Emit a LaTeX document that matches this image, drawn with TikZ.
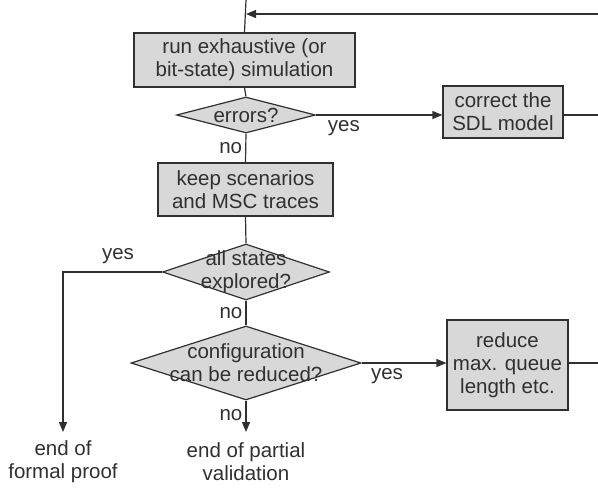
\documentclass[tikz,border=0pt]{standalone}
\usepackage{fontspec}
\setmainfont{Liberation Sans}
\usetikzlibrary{shapes.geometric,arrows.meta}
\definecolor{boxfill}{HTML}{D8D8D8}
\definecolor{ink}{HTML}{303030}
\begin{document}
\begin{tikzpicture}[x=1pt,y=1pt,
  every node/.style={font=\fontsize{20.5}{23}\selectfont,text=ink},
  procbox/.style={draw=ink,fill=boxfill,line width=1.2pt,align=center,inner sep=0pt},
  decision/.style={diamond,draw=ink,fill=boxfill,line width=1.2pt,inner sep=0pt},
  flow/.style={draw=ink,line width=1.2pt},
  arr/.style={flow,-{Triangle[length=10pt,width=8pt]}},
  lbl/.style={inner sep=0pt,align=center}]
\useasboundingbox (0,0) rectangle (598,-488);

% process boxes
\node[procbox,minimum width=221,minimum height=54] (run) at (244.5,-60)
  {run exhaustive (or\\bit-state) simulation};
\node[procbox,minimum width=120,minimum height=52] (correct) at (503,-112)
  {correct the\\SDL model};
\node[procbox,minimum width=175,minimum height=53] (keep) at (245.5,-189.5)
  {keep scenarios\\and MSC traces};
\node[procbox,minimum width=121,minimum height=90] (reduce) at (507.5,-365)
  {reduce\\max. queue\\length etc.};

% decisions
\node[decision,minimum width=139,minimum height=36,
  label={[lbl]center:errors?}] (err) at (246,-115) {};
\node[decision,minimum width=167,minimum height=56,
  label={[lbl]center:all states\\explored?}] (all) at (246,-272) {};
\node[decision,minimum width=230,minimum height=74,
  label={[lbl]center:configuration\\can be reduced?}] (conf) at (246,-363) {};

% end points
\node[lbl] (proof) at (63,-462) {end of\\formal proof};
\node[lbl] (partial) at (246,-462) {end of partial\\validation};

% loop-back entry
\coordinate (topin) at (246,0);
\coordinate (ret) at (598,-14);
\coordinate (join) at (246,-14);
\draw[flow] (topin) -- (run.north);
\draw[arr] (ret) -- (join);

% main flow
\draw[flow] (run.south) -- (err.north);
\draw[flow] (err.south) -- (keep.north) node[pos=0.5,left=3pt,lbl] {no};
\draw[flow] (keep.south) -- (all.north);
\draw[flow] (all.south) -- (conf.north) node[pos=0.5,left=3pt,lbl] {no};
\draw[arr] (conf.south) -- (246,-432) node[pos=0.45,left=3pt,lbl] {no};

% branches
\draw[arr] (err.east) -- (err.east -| correct.west)
  node[pos=0.22,below=5pt,lbl] {yes};
\coordinate (cout) at (598,-115);
\draw[flow] (correct.east |- cout) -- (cout);

\coordinate (yesdown) at (63,-432);
\draw[arr] (all.west) -| (yesdown);
\node[lbl] at (118,-256) {yes};

\draw[arr] (conf.east) -- (conf.east -| reduce.west)
  node[pos=0.3,below=5pt,lbl] {yes};
\coordinate (rout) at (598,-363);
\draw[flow] (reduce.east |- rout) -- (rout);
\end{tikzpicture}
\end{document}
